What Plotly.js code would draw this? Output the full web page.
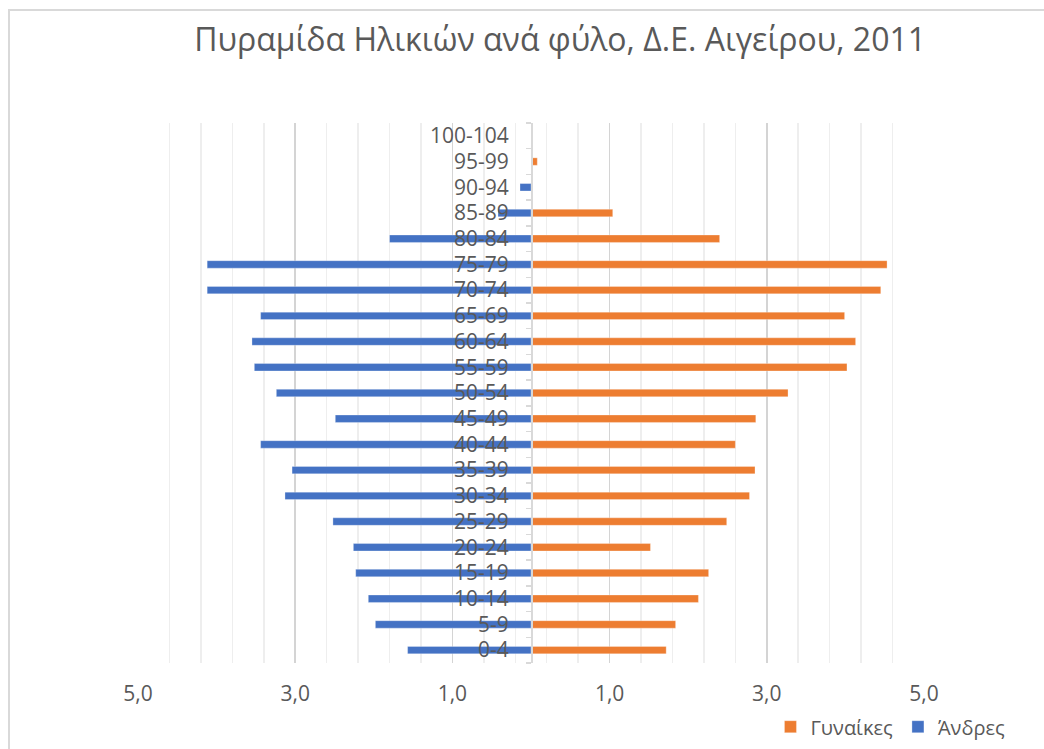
<!DOCTYPE html>
<html>
<head>
<meta charset="utf-8">
<script src="https://cdn.plot.ly/plotly-3.0.1.min.js"></script>
<style>
  html, body { margin: 0; padding: 0; background: #ffffff; overflow: hidden; }
  #frame { position: absolute; left: 8px; top: 9px; width: 2000px; height: 2000px;
           border-left: 2px solid #d9d9d9; border-top: 2px solid #d9d9d9; box-sizing: border-box; }
  #chart { position: absolute; left: 0; top: 0; width: 1044px; height: 749px; }
</style>
</head>
<body>
<div id="frame"></div>
<div id="chart"></div>
<script>
// Age groups (bottom to top)
const ageGroups = ['0-4','5-9','10-14','15-19','20-24','25-29','30-34','35-39','40-44','45-49',
                   '50-54','55-59','60-64','65-69','70-74','75-79','80-84','85-89','90-94','95-99','100-104'];
// Percent of population, women
const women = [1.72,1.84,2.13,2.26,1.52,2.49,2.78,2.85,2.60,2.86,
               3.27,4.02,4.13,3.99,4.45,4.53,2.40,1.04,0,0.08,0];
// Percent of population, men (drawn to the left)
const men = [1.57,1.98,2.07,2.23,2.26,2.52,3.13,3.04,3.44,2.49,
             3.24,3.52,3.55,3.44,4.12,4.12,1.80,0.42,0.14,0,0];
// X tick values and labels
const xTickVals = [-5,-3,-1,1,3,5];
const xTickText = ['5,0','3,0','1,0','1,0','3,0','5,0'];

const titleText = 'Πυραμίδα Ηλικιών ανά φύλο, Δ.Ε. Αιγείρου, 2011';
const womenName = 'Γυναίκες';
const menName = 'Άνδρες';

const FONT = '"Open Sans", "Noto Sans", sans-serif';
const GREY = '#595959';

const traces = [
  {
    type: 'bar', orientation: 'h', name: womenName,
    y: ageGroups, x: women,
    marker: { color: '#ED7D31', line: { color: 'rgba(255,255,255,0.6)', width: 0.5 } },
    hoverinfo: 'skip'
  },
  {
    type: 'bar', orientation: 'h', name: menName,
    y: ageGroups, x: men.map(v => -v),
    marker: { color: '#4472C4', line: { color: 'rgba(255,255,255,0.6)', width: 0.5 } },
    hoverinfo: 'skip'
  }
];

const layout = {
  width: 1044, height: 749,
  margin: { l: 138, r: 120, t: 123, b: 86, autoexpand: false },
  paper_bgcolor: 'rgba(0,0,0,0)',
  plot_bgcolor: 'rgba(0,0,0,0)',
  font: { family: FONT, color: GREY, size: 20 },
  title: {
    text: titleText,
    font: { family: FONT, size: 32, color: GREY },
    x: 0.537, xanchor: 'center', xref: 'paper',
    y: 0.947, yanchor: 'middle'
  },
  barmode: 'overlay',
  bargap: 0.71,
  showlegend: true,
  legend: {
    orientation: 'h',
    x: 1.11, xanchor: 'right',
    y: -0.118, yanchor: 'middle',
    font: { family: FONT, size: 20, color: GREY },
    itemwidth: 30,
    bgcolor: 'rgba(0,0,0,0)'
  },
  xaxis: {
    range: [-5, 5],
    tickmode: 'array', tickvals: xTickVals, ticktext: xTickText,
    showgrid: true, gridcolor: '#d4d4d4', gridwidth: 1.5,
    zeroline: false, showline: false, ticks: '',
    ticklabelstandoff: 16,
    tickfont: { family: FONT, size: 21, color: GREY },
    minor: { tickmode: 'linear', tick0: -5, dtick: 0.4, showgrid: true, gridcolor: '#eeeeee', gridwidth: 1.5 },
    fixedrange: true
  },
  yaxis: {
    type: 'category',
    anchor: 'free', position: 0.5,
    showgrid: false, zeroline: false,
    showline: true, linecolor: '#d9d9d9', linewidth: 1.5,
    ticks: 'outside', ticklen: 5, tickcolor: '#d9d9d9', tickwidth: 1.5,
    tickson: 'boundaries',
    ticklabelstandoff: 18,
    tickfont: { family: FONT, size: 21, color: GREY },
    fixedrange: true
  }
};

Plotly.newPlot('chart', traces, layout, { displayModeBar: false, staticPlot: true });
</script>
</body>
</html>
